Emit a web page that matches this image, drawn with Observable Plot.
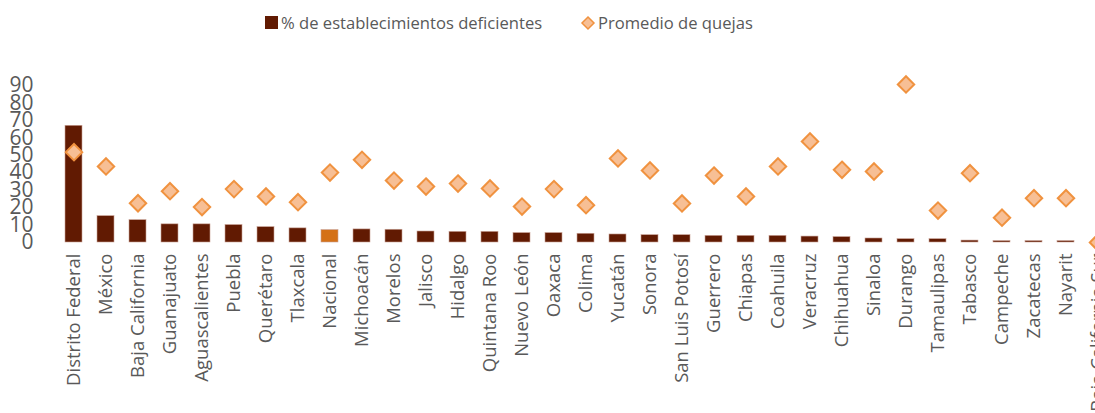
<!DOCTYPE html>
<html>
<head>
<meta charset="utf-8">
<script src="https://cdn.jsdelivr.net/npm/d3@7"></script>
<script src="https://cdn.jsdelivr.net/npm/@observablehq/plot@0.6"></script>
<style>
  html, body { margin: 0; padding: 0; background: #fff; overflow: hidden; }
  body { width: 1095px; height: 413px; position: relative; font-family: "Open Sans", sans-serif; }
  #legend { position: absolute; left: 0; top: 0; width: 1095px; height: 45px; }
  .item { position: absolute; top: 11px; display: flex; align-items: center; font-size: 16.6px; color: #595959; white-space: nowrap; }
  #chart { position: absolute; left: 0; top: 45px; }
</style>
</head>
<body>
<div id="legend">
  <div class="item" style="left:265px;"><span style="display:inline-block;width:13px;height:13px;background:#611a02;margin-right:3px;"></span>% de establecimientos deficientes</div>
  <div class="item" style="left:580px;"><svg width="16" height="16" style="margin-right:2px"><path d="M8,2 L14,8 L8,14 L2,8 Z" fill="#f7bf95" stroke="#f0923f" stroke-width="1.5"/></svg>Promedio de quejas</div>
</div>
<div id="chart"></div>
<script>
const estados = ["Distrito Federal","México","Baja California","Guanajuato","Aguascalientes","Puebla","Querétaro","Tlaxcala","Nacional","Michoacán","Morelos","Jalisco","Hidalgo","Quintana Roo","Nuevo León","Oaxaca","Colima","Yucatán","Sonora","San Luis Potosí","Guerrero","Chiapas","Coahuila","Veracruz","Chihuahua","Sinaloa","Durango","Tamaulipas","Tabasco","Campeche","Zacatecas","Nayarit","Baja California Sur"];
const pctDeficientes = [66.9,15.1,12.8,10.4,10.4,10.0,8.8,8.1,7.1,7.5,7.3,6.3,6.1,6.1,5.4,5.4,5.0,4.6,4.2,4.2,3.8,3.8,3.8,3.4,3.1,2.3,1.9,1.9,1.1,0.8,0.8,0.8,0];
const promedioQuejas = [51.8,43.6,22.5,29.4,20.3,30.6,26.4,23.1,40.1,47.4,35.5,32.1,33.8,31.0,20.6,30.6,21.4,48.2,41.3,22.4,38.4,26.4,43.6,57.9,41.7,40.7,90.6,18.3,39.7,14.2,25.4,25.4,0];
const yTicks = [0,10,20,30,40,50,60,70,80,90];

const data = estados.map((e, i) => ({estado: e, pct: pctDeficientes[i], quejas: promedioQuejas[i]}));

const chart = Plot.plot({
  width: 1095,
  height: 368,
  marginTop: 40,
  marginBottom: 171,
  marginLeft: 57,
  marginRight: 0,
  style: {fontFamily: "Open Sans, sans-serif", color: "#595959", overflow: "visible"},
  x: {domain: estados, range: [57, 1113], paddingInner: 0.47, paddingOuter: 0.235, label: null},
  y: {domain: [0, 90], label: null},
  marks: [
    Plot.ruleY([0], {x1: 57, x2: 1113, stroke: "#d9d9d9", strokeWidth: 2}),
    Plot.barY(data, {x: "estado", y: "pct", fill: d => d.estado === "Nacional" ? "#d47117" : "#611a02", stroke: "#c9a195", strokeWidth: 0.6}),
    Plot.dot(data, {x: "estado", y: "quejas", symbol: "diamond2", r: 7.4, fill: "#f7bf95", stroke: "#f0923f", strokeWidth: 2}),
    Plot.axisY({ticks: yTicks, tickSize: 0, tickPadding: 24, fontSize: 21, fill: "#595959", label: null}),
    Plot.axisX({tickSize: 0, tickPadding: 11, tickRotate: -90, fontSize: 18.5, fill: "#595959", label: null})
  ]
});
document.getElementById("chart").appendChild(chart);
</script>
</body>
</html>
